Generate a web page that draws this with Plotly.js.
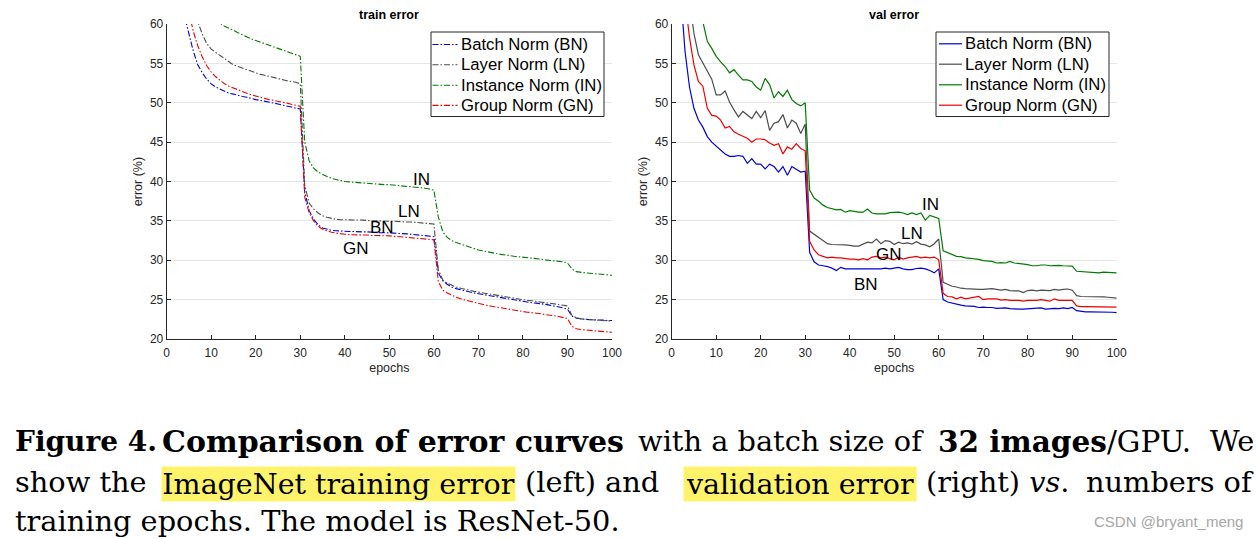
<!DOCTYPE html>
<html>
<head>
<meta charset="utf-8">
<script src="https://cdn.plot.ly/plotly-3.0.1.min.js"></script>
<style>
  html, body { margin: 0; padding: 0; background: #ffffff; }
  #chart { width: 1257px; height: 539px; }
</style>
</head>
<body>
<div id="chart"></div>
<script>
// ---------- data ----------
const epochs = [];
for (let i = 1; i <= 100; i++) epochs.push(i);

const seriesNames = ['Batch Norm (BN)', 'Layer Norm (LN)', 'Instance Norm (IN)', 'Group Norm (GN)'];

// training error (%)
const trainBN = [78,70,64.5,61,58.7,56.5,54.8,53.8,53.0,52.4,
  52.0,51.7,51.4,51.2,51.1,50.9,50.8,50.7,50.5,50.4,
  50.3,50.2,50.1,50.0,49.85,49.7,49.6,49.45,49.3,49.2,
  38.7,36.3,35.2,34.5,34.1,33.9,33.8,33.75,33.7,33.7,
  33.65,33.65,33.6,33.6,33.6,33.55,33.55,33.5,33.5,33.5,
  33.45,33.4,33.4,33.35,33.3,33.25,33.2,33.15,33.1,33.0,
  28.4,27.4,26.95,26.6,26.4,26.25,26.1,25.95,25.85,25.75,
  25.65,25.55,25.45,25.35,25.25,25.15,25.05,24.95,24.85,24.75,
  24.65,24.6,24.55,24.5,24.4,24.3,24.2,24.1,23.95,23.8,
  22.9,22.65,22.55,22.5,22.45,22.45,22.4,22.4,22.35,22.35];
const trainLN = [90,80,72,67,64,61.8,60.2,58.7,57.5,56.8,
  56.4,56.0,55.6,55.1,54.8,54.6,54.4,54.2,54.0,53.8,
  53.6,53.5,53.35,53.2,53.05,52.95,52.8,52.7,52.6,52.4,
  39.5,37.25,36.5,36.0,35.65,35.45,35.3,35.2,35.15,35.15,
  35.1,35.1,35.1,35.1,35.05,35.0,35.0,35.0,34.95,34.95,
  34.95,34.9,34.9,34.85,34.85,34.8,34.75,34.7,34.65,34.6,
  28.8,27.5,27.1,26.8,26.6,26.45,26.3,26.2,26.05,25.95,
  25.85,25.75,25.65,25.55,25.45,25.35,25.25,25.15,25.05,24.95,
  24.9,24.85,24.75,24.7,24.6,24.55,24.45,24.4,24.3,24.2,
  23.0,22.7,22.55,22.5,22.45,22.4,22.35,22.35,22.3,22.3];
const trainIN = [95,85,78,73,69.5,67,65,63.5,62.3,61.4,
  60.7,60.1,59.7,59.5,59.2,58.9,58.6,58.3,58.1,57.9,
  57.7,57.5,57.3,57.1,56.9,56.7,56.5,56.3,56.1,55.9,
  45.0,42.6,41.7,41.2,40.9,40.6,40.4,40.25,40.1,40.0,
  39.95,39.9,39.85,39.8,39.75,39.7,39.7,39.65,39.6,39.6,
  39.55,39.5,39.45,39.4,39.35,39.3,39.25,39.15,39.05,38.9,
  35.5,33.6,32.9,32.5,32.25,32.05,31.85,31.65,31.45,31.3,
  31.2,31.05,30.95,30.85,30.75,30.7,30.6,30.5,30.45,30.4,
  30.35,30.3,30.2,30.15,30.05,30.0,29.95,29.85,29.8,29.65,
  28.9,28.55,28.45,28.4,28.35,28.3,28.25,28.2,28.15,28.1];
const trainGN = [85,75,68.5,64,61.3,59,57.2,55.8,54.7,53.9,
  53.3,52.8,52.4,52.1,51.85,51.6,51.4,51.2,51.0,50.85,
  50.65,50.5,50.4,50.3,50.2,50.05,49.95,49.8,49.7,49.55,
  38.0,36.0,35.0,34.3,33.95,33.7,33.55,33.45,33.35,33.3,
  33.25,33.25,33.2,33.2,33.2,33.15,33.15,33.15,33.1,33.1,
  33.05,33.0,32.95,32.9,32.85,32.8,32.75,32.7,32.65,32.6,
  27.3,26.2,25.85,25.55,25.3,25.1,24.95,24.8,24.65,24.5,
  24.4,24.25,24.15,24.05,23.95,23.85,23.75,23.65,23.55,23.5,
  23.4,23.35,23.3,23.2,23.1,23.05,22.95,22.85,22.75,22.6,
  21.6,21.3,21.2,21.15,21.1,21.0,20.95,20.9,20.85,20.85];

// validation error (%)
const valBN = [75,64,56.5,52.0,49.3,47.8,46.9,45.7,45.0,44.5,
  43.9,43.5,43.2,43.2,43.3,43.2,42.3,42.9,42.2,42.2,
  41.6,42.2,41.9,41.2,41.9,40.8,41.9,41.5,41.2,41.3,
  31.0,29.8,29.4,29.3,29.2,29.0,28.7,29.1,28.9,28.9,
  28.9,28.95,28.9,28.95,28.95,28.95,28.9,29.0,28.9,29.0,
  29.1,28.9,28.8,28.8,28.95,29.0,28.9,28.7,28.4,28.9,
  25.0,24.7,24.55,24.4,24.3,24.2,24.15,24.15,24.0,24.05,
  24.0,24.0,23.9,23.9,23.95,23.85,23.8,23.8,23.8,23.85,
  23.85,23.9,23.95,23.8,23.85,23.9,23.85,23.95,23.85,24.0,
  23.6,23.5,23.45,23.45,23.45,23.45,23.4,23.4,23.4,23.35];
const valLN = [85,75,68,63,58.8,56.1,55.1,54.0,53.0,51.0,
  51.0,51.5,50.1,49.1,48.2,48.9,48.5,48.0,48.9,48.1,
  49.0,46.5,47.4,47.6,48.5,46.8,47.8,47.4,46.1,47.3,
  33.7,33.3,32.95,32.5,32.1,32.0,32.0,32.0,31.95,31.9,
  31.8,31.8,32.0,32.3,32.2,32.7,32.1,32.5,32.4,32.0,
  32.3,32.1,32.2,32.05,32.35,32.05,31.95,31.7,32.1,32.7,
  27.2,26.95,26.7,26.6,26.45,26.4,26.35,26.3,26.3,26.3,
  26.35,26.4,26.3,26.2,26.3,26.15,26.1,26.1,25.9,26.15,
  26.2,26.1,26.2,26.15,26.15,26.3,26.2,26.3,26.35,26.2,
  25.5,25.4,25.4,25.4,25.4,25.4,25.35,25.3,25.25,25.2];
const valIN = [88,80,74,70,66,63,60.3,57.8,56.9,55.9,
  55.2,54.6,53.8,54.2,53.5,52.9,52.9,52.7,52.0,51.6,
  53.1,52.3,50.6,51.4,50.8,51.6,50.4,49.9,49.6,50.0,
  38.9,37.9,37.5,37.0,36.7,36.55,36.4,36.45,36.1,36.3,
  36.2,36.1,36.1,36.5,36.0,35.9,35.9,35.9,36.05,36.1,
  36.1,36.0,35.8,36.0,35.8,36.0,35.1,35.7,35.5,35.3,
  31.2,31.0,30.75,30.5,30.45,30.3,30.25,30.2,30.1,29.95,
  29.9,29.85,29.65,29.7,29.65,29.85,29.65,29.6,29.5,29.45,
  29.3,29.3,29.4,29.4,29.3,29.35,29.35,29.3,29.3,29.25,
  28.6,28.55,28.5,28.45,28.4,28.4,28.5,28.45,28.45,28.4];
const valGN = [80,70,63,58.3,54.8,52.7,52.1,49.3,48.4,48.3,
  47.8,46.8,47.0,46.3,46.0,45.8,45.5,45.0,45.4,45.4,
  45.3,44.9,44.6,44.8,43.5,44.4,44.1,44.8,44.2,43.9,
  32.4,31.3,30.7,30.5,30.3,30.4,30.3,30.3,30.2,30.15,
  30.15,30.05,30.2,30.05,30.4,30.5,30.3,30.4,30.2,30.05,
  30.4,30.15,30.3,30.4,30.5,30.3,30.4,30.3,30.4,30.05,
  25.8,25.4,25.35,25.1,25.3,25.1,25.2,25.35,25.4,25.0,
  25.1,25.1,25.1,24.95,25.0,24.9,24.9,24.9,24.8,24.9,
  24.9,24.9,25.0,24.9,24.8,25.1,24.9,24.9,24.9,24.9,
  24.2,24.1,24.1,24.1,24.1,24.1,24.1,24.05,24.05,24.05];

const xTicks = [0,10,20,30,40,50,60,70,80,90,100];
const yTicks = [20,25,30,35,40,45,50,55,60];

// ---------- styling ----------
const colors = ['#0000d8', '#4d4d4d', '#007a00', '#ee0000'];
const SANS = 'Liberation Sans, Arial, Helvetica, sans-serif';
const SERIF = 'DejaVu Serif, serif';
const W = 1257, H = 539;
const px = v => v / W;
const py = v => 1 - v / H;
const DASHDOT = '6px,2px,1.5px,2px';

const trainSets = [trainBN, trainLN, trainIN, trainGN];
const valSets = [valBN, valLN, valIN, valGN];

const traces = [];
trainSets.forEach((ys, i) => {
  traces.push({
    type: 'scatter', mode: 'lines', x: epochs, y: ys, name: seriesNames[i],
    xaxis: 'x', yaxis: 'y', showlegend: false,
    line: { color: colors[i], width: 1.1, dash: DASHDOT }
  });
});
valSets.forEach((ys, i) => {
  traces.push({
    type: 'scatter', mode: 'lines', x: epochs, y: ys, name: seriesNames[i],
    xaxis: 'x2', yaxis: 'y2', showlegend: false,
    line: { color: colors[i], width: 1.2 }
  });
});

function xAxis(domain, anchor) {
  return {
    domain: domain, anchor: anchor, range: [0, 100], tickvals: xTicks, ticktext: xTicks.map(String),
    ticks: 'inside', ticklen: 4, tickcolor: '#262626', showline: true, linecolor: '#262626', linewidth: 1,
    showgrid: false, zeroline: false, ticklabelstandoff: 3,
    tickfont: { family: SANS, size: 12, color: '#262626' },
    title: { text: 'epochs', font: { family: SANS, size: 12.5, color: '#262626' }, standoff: 3 }
  };
}
function yAxis(domain, anchor) {
  return {
    domain: domain, anchor: anchor, range: [20, 60], tickvals: yTicks, ticktext: yTicks.map(String),
    ticks: 'inside', ticklen: 4, tickcolor: '#262626', showline: true, linecolor: '#262626', linewidth: 1,
    showgrid: true, gridcolor: '#e6e6e6', gridwidth: 1, zeroline: false,
    tickfont: { family: SANS, size: 12, color: '#262626' },
    title: { text: 'error (%)', font: { family: SANS, size: 12.5, color: '#262626' }, standoff: 4 }
  };
}

const yDom = [py(339), py(24)];

// ---------- legends (box, samples and labels) ----------
const shapes = [];
const annotations = [];
const legFont = { family: SANS, size: 16.7, color: '#000000' };
const legends = [
  { box: [431, 32, 604, 116.5], sx: [432.5, 457.5], tx: 460, rows: [44.5, 64.8, 85.2, 105.4], dash: DASHDOT, w: 1.1 },
  { box: [936, 32, 1109, 116.5], sx: [939, 962], tx: 964, rows: [43.8, 64.2, 84.8, 105.2], dash: 'solid', w: 1.2 }
];
legends.forEach(lg => {
  shapes.push({ type: 'rect', xref: 'paper', yref: 'paper', x0: px(lg.box[0]), x1: px(lg.box[2]),
    y0: py(lg.box[3]), y1: py(lg.box[1]), fillcolor: '#ffffff', line: { color: '#262626', width: 1 } });
  seriesNames.forEach((nm, i) => {
    shapes.push({ type: 'line', xref: 'paper', yref: 'paper', x0: px(lg.sx[0]), x1: px(lg.sx[1]),
      y0: py(lg.rows[i]), y1: py(lg.rows[i]), line: { color: colors[i], width: lg.w, dash: lg.dash } });
    annotations.push({ text: nm, x: px(lg.tx), y: py(lg.rows[i]), xref: 'paper', yref: 'paper',
      showarrow: false, font: legFont, xanchor: 'left', yanchor: 'middle', borderpad: 0 });
  });
});

const labelFont = { family: SANS, size: 17, color: '#000000' };
function lab(text, x, y, xr, yr) {
  return { text: text, x: x, y: y, xref: xr, yref: yr, showarrow: false, font: labelFont, xanchor: 'center', yanchor: 'middle' };
}
function cap(text, x, y, anchor, size, extra) {
  return Object.assign({ text: text, x: px(x), y: py(y), xref: 'paper', yref: 'paper', showarrow: false,
    font: { family: SERIF, size: size, color: '#000000' }, xanchor: anchor, yanchor: 'middle', borderpad: 0 }, extra || {});
}
const HL = '#fff36b';

annotations.push(
  // titles
  { text: '<b>train error</b>', x: px(389), y: py(15), xref: 'paper', yref: 'paper', showarrow: false,
    font: { family: SANS, size: 12.5, color: '#000' }, xanchor: 'center', yanchor: 'middle' },
  { text: '<b>val error</b>', x: px(894), y: py(15), xref: 'paper', yref: 'paper', showarrow: false,
    font: { family: SANS, size: 12.5, color: '#000' }, xanchor: 'center', yanchor: 'middle' },
  // curve labels (train)
  lab('IN', 57.3, 40.3, 'x', 'y'), lab('LN', 54.3, 36.2, 'x', 'y'),
  lab('BN', 48.4, 34.2, 'x', 'y'), lab('GN', 42.6, 31.5, 'x', 'y'),
  // curve labels (val)
  lab('IN', 58.2, 37.1, 'x2', 'y2'), lab('LN', 53.9, 33.4, 'x2', 'y2'),
  lab('GN', 48.8, 30.7, 'x2', 'y2'), lab('BN', 43.6, 26.95, 'x2', 'y2'),
  // caption line 1
  cap('<b>Figure 4.</b>', 14, 441, 'left', 28),
  cap('<b>Comparison of error curves</b>', 161, 441, 'left', 30),
  cap('with a batch size of', 637, 441, 'left', 28.8),
  cap('<b>32 images</b>/GPU.', 937, 441, 'left', 29.5),
  cap('We', 1255, 441, 'right', 28.8),
  // caption line 2
  cap('show the', 14, 482, 'left', 28.8),
  cap('ImageNet training error', 161, 484, 'left', 28.5, { bgcolor: HL, width: 353, height: 34 }),
  cap('(left) and', 524, 482, 'left', 28.8),
  cap('validation error', 683, 484, 'left', 28.5, { bgcolor: HL, width: 232, height: 34 }),
  cap('(right) <i>vs</i>.', 925, 482, 'left', 28.8),
  cap('numbers of', 1255, 482, 'right', 28.8),
  // caption line 3
  cap('training epochs. The model is ResNet-50.', 14, 521, 'left', 28.8),
  // watermark
  { text: 'CSDN @bryant_meng', x: px(1245), y: py(521), xref: 'paper', yref: 'paper', showarrow: false,
    font: { family: SANS, size: 15, color: '#a6a6a6' }, xanchor: 'right', yanchor: 'middle' }
);

const layout = {
  width: W, height: H, margin: { l: 0, r: 0, t: 0, b: 0 },
  paper_bgcolor: '#ffffff', plot_bgcolor: '#ffffff', showlegend: false,
  xaxis: xAxis([px(166.7), px(612)], 'y'),
  yaxis: yAxis(yDom, 'x'),
  xaxis2: xAxis([px(671.7), px(1116.7)], 'y2'),
  yaxis2: yAxis(yDom, 'x2'),
  shapes: shapes,
  annotations: annotations
};

Plotly.newPlot('chart', traces, layout, { staticPlot: true, displayModeBar: false });
</script>
</body>
</html>
